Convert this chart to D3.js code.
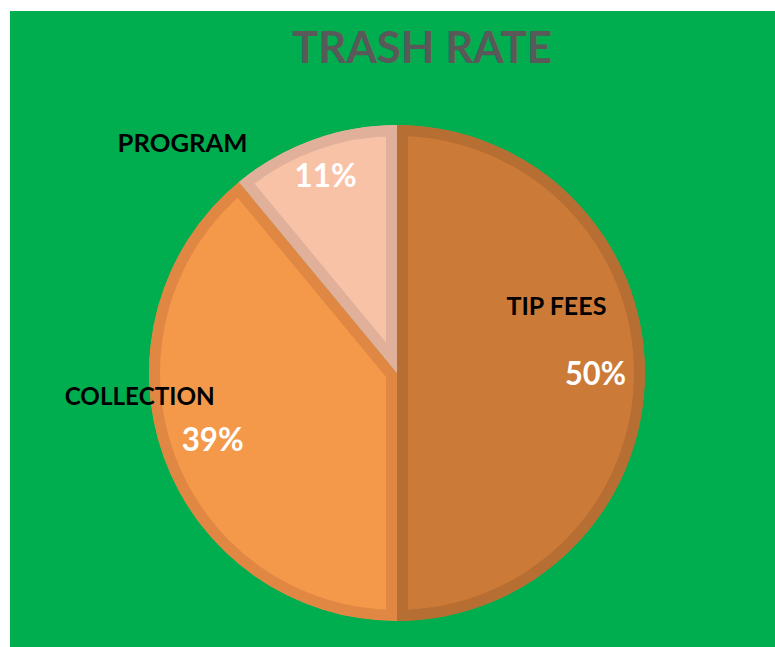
<!DOCTYPE html>
<html>
<head>
<meta charset="utf-8">
<script src="https://cdn.jsdelivr.net/npm/d3@7"></script>
<style>
  html, body { margin: 0; padding: 0; background: #fff; }
  svg { display: block; }
</style>
</head>
<body>
<svg id="chart" width="775" height="647"></svg>
<script>
var categories = ['TIP FEES', 'COLLECTION', 'PROGRAM']
var values = [50, 39, 11]
var percentLabels = ['50%', '39%', '11%']
var title = 'TRASH RATE'

var fills = ['#cc7a38', '#f4994a', '#f8c2a6']
var borders = ['#b66e32', '#e08843', '#e0b09a']

// where excel left the labels: percent radius factor, category offset from percent
var pctRadius = [0.8, 0.79, 0.85]
var catOffset = [[-39, -67], [-73, -43], [-143, -32]]
var catWidth = [100, 150, 130]
var pctWidth = [61, 62, 62]

var svg = d3.select('#chart')
var width = +svg.attr('width')
var height = +svg.attr('height')

svg.append('rect')
  .attr('x', 10)
  .attr('y', 11)
  .attr('width', width - 10)
  .attr('height', height - 11)
  .attr('fill', '#00ae50')

svg.append('text')
  .attr('x', 422)
  .attr('y', 63)
  .attr('text-anchor', 'middle')
  .attr('font-family', 'Lato, "Open Sans", sans-serif')
  .attr('font-weight', 'bold')
  .attr('font-size', 43)
  .attr('fill', '#595959')
  .attr('textLength', 260)
  .attr('lengthAdjust', 'spacingAndGlyphs')
  .text(title)

var cx = 397
var cy = 373
var radius = 248

var pie = d3.pie().sort(null).value(function (d) { return d })
var arcs = pie(values)
var arc = d3.arc().innerRadius(0).outerRadius(radius)

var defs = svg.append('defs')
var g = svg.append('g')
  .attr('transform', 'translate(' + cx + ',' + cy + ')')

arcs.forEach(function (a, i) {
  defs.append('clipPath')
    .attr('id', 'clip' + i)
    .append('path')
    .attr('d', arc(a))

  g.append('path')
    .attr('d', arc(a))
    .attr('fill', fills[i])
    .attr('stroke', borders[i])
    .attr('stroke-width', 22)
    .attr('stroke-linejoin', 'miter')
    .attr('clip-path', 'url(#clip' + i + ')')
})

var labels = g.append('g')
  .attr('font-family', 'Lato, "Open Sans", sans-serif')
  .attr('font-weight', 'bold')
  .attr('text-anchor', 'middle')

arcs.forEach(function (a, i) {
  var r = radius * pctRadius[i]
  var c = d3.arc().innerRadius(r).outerRadius(r).centroid(a)
  labels.append('text')
    .attr('x', c[0])
    .attr('y', c[1] + 12)
    .attr('font-size', 32)
    .attr('fill', '#ffffff')
    .attr('textLength', pctWidth[i])
    .attr('lengthAdjust', 'spacingAndGlyphs')
    .text(percentLabels[i])

  labels.append('text')
    .attr('x', c[0] + catOffset[i][0])
    .attr('y', c[1] + catOffset[i][1] + 9)
    .attr('font-size', 25)
    .attr('fill', '#000000')
    .attr('textLength', catWidth[i])
    .attr('lengthAdjust', 'spacingAndGlyphs')
    .text(categories[i])
})
</script>
</body>
</html>
